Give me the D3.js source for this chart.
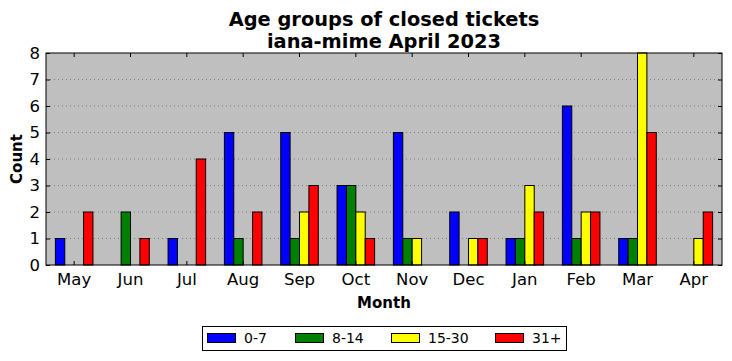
<!DOCTYPE html>
<html><head><meta charset="utf-8">
<script src="https://cdn.jsdelivr.net/npm/d3@7"></script>
<style>body{margin:0;background:#fff;} text{font-family:"DejaVu Sans",sans-serif;}</style>
</head><body>
<script>
const months = ["May","Jun","Jul","Aug","Sep","Oct","Nov","Dec","Jan","Feb","Mar","Apr"];
const seriesNames = ["0-7","8-14","15-30","31+"];
const s0_7   = [1,0,1,5,5,3,5,2,1,6,1,0];
const s8_14  = [0,2,0,1,1,3,1,0,1,1,1,0];
const s15_30 = [0,0,0,0,2,2,1,1,3,2,8,1];
const s31p   = [2,1,4,2,3,1,0,1,2,2,5,2];
const yTicks = [0,1,2,3,4,5,6,7,8];
const colors = ["#0000ff","#008000","#ffff00","#ff0000"];
const series = [s0_7, s8_14, s15_30, s31p];

const W=732,H=361;
const m={l:46,r:10,t:53,b:96};
const iw=W-m.l-m.r, ih=H-m.t-m.b;
const svg=d3.select("body").append("svg").attr("width",W).attr("height",H);
const g=svg.append("g").attr("transform",`translate(${m.l},${m.t})`);

const x=d3.scaleBand().domain(months).range([0,iw]).padding(0);
const y=d3.scaleLinear().domain([0,8]).range([ih,0]);
const bw=x.bandwidth()/6;

g.append("rect").attr("width",iw).attr("height",ih).attr("fill","#bfbfbf");

// grid
g.selectAll(".grid").data(yTicks.slice(1,-1)).enter().append("line")
 .attr("x1",0).attr("x2",iw).attr("y1",d=>y(d)).attr("y2",d=>y(d))
 .attr("stroke","#7f7f7f").attr("stroke-width",1).attr("stroke-dasharray","1,3");

// bars
series.forEach((s,k)=>{
  g.selectAll(".b"+k).data(s).enter().append("rect")
   .attr("x",(d,i)=>x(months[i])+x.bandwidth()/2+(k-2)*bw)
   .attr("y",d=>y(d)).attr("width",bw).attr("height",d=>y(0)-y(d))
   .attr("fill",colors[k]).attr("stroke","#000").attr("stroke-width",1);
});

// axes
const xb=g.append("g").attr("transform",`translate(0,${ih})`)
 .call(d3.axisBottom(x).tickSizeInner(-4).tickSizeOuter(0).tickPadding(8));
const xt=g.append("g").call(d3.axisTop(x).tickSizeInner(-4).tickSizeOuter(0).tickFormat(""));
const yl=g.append("g").call(d3.axisLeft(y).tickValues(yTicks).tickFormat(d3.format("d")).tickSizeInner(-4).tickSizeOuter(0).tickPadding(6));
const yr=g.append("g").attr("transform",`translate(${iw},0)`).call(d3.axisRight(y).tickValues(yTicks).tickSizeInner(-4).tickSizeOuter(0).tickFormat(""));
[xb,xt,yl,yr].forEach(a=>{a.select(".domain").remove();a.selectAll("line").attr("stroke","#000");
  a.selectAll("text").attr("font-size",16.5).attr("fill","#000").style("font-family","DejaVu Sans");});
g.append("rect").attr("width",iw).attr("height",ih).attr("fill","none").attr("stroke","#000").attr("stroke-width",1);

// titles
svg.append("text").attr("x",m.l+iw/2).attr("y",25.5).attr("text-anchor","middle")
 .attr("font-size",19.4).attr("font-weight","bold").text("Age groups of closed tickets");
svg.append("text").attr("x",m.l+iw/2).attr("y",48).attr("text-anchor","middle")
 .attr("font-size",19.4).attr("font-weight","bold").text("iana-mime April 2023");
svg.append("text").attr("x",m.l+iw/2).attr("y",308).attr("text-anchor","middle")
 .attr("font-size",15).attr("font-weight","bold").text("Month");
svg.append("text").attr("transform",`translate(22,${m.t+ih/2}) rotate(-90)`).attr("text-anchor","middle")
 .attr("font-size",15).attr("font-weight","bold").text("Count");

// legend
const lg=svg.append("g");
lg.append("rect").attr("x",202.5).attr("y",326.5).attr("width",364).attr("height",24)
 .attr("fill","#fff").attr("stroke","#000");
const lx=[207,295,391,495];
seriesNames.forEach((n,k)=>{
  lg.append("rect").attr("x",lx[k]+0.5).attr("y",333.5).attr("width",28).attr("height",9)
   .attr("fill",colors[k]).attr("stroke","#000");
  lg.append("text").attr("x",lx[k]+37).attr("y",343).attr("font-size",14).text(n);
});
</script>
</body></html>
